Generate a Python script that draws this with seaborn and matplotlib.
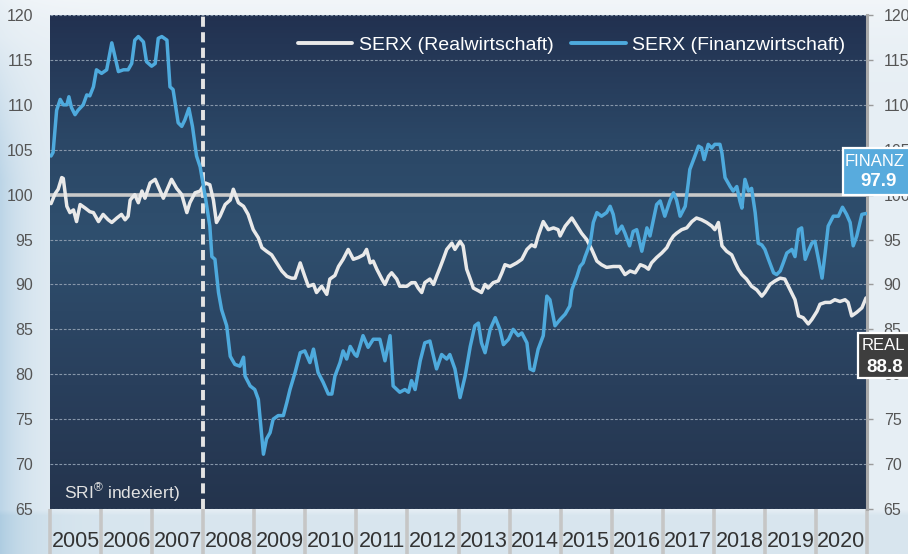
import numpy as np
import pandas as pd
import matplotlib
matplotlib.use("Agg")
import matplotlib.pyplot as plt
import seaborn as sns
from matplotlib.colors import LinearSegmentedColormap, to_rgb
from matplotlib.patches import Rectangle
from matplotlib.lines import Line2D

# ---------------- data ----------------
fin_t = [2005.02, 2005.06, 2005.13, 2005.20, 2005.26, 2005.33, 2005.37, 2005.42, 2005.49, 2005.55,
         2005.65, 2005.72, 2005.78, 2005.85, 2005.91, 2006.01, 2006.11, 2006.21, 2006.27, 2006.34,
         2006.44, 2006.53, 2006.60, 2006.66, 2006.73, 2006.83, 2006.89, 2006.99, 2007.06, 2007.12,
         2007.19, 2007.29, 2007.35, 2007.41, 2007.51, 2007.58, 2007.64, 2007.72, 2007.79, 2007.87,
         2007.94, 2008.04, 2008.13, 2008.17, 2008.23, 2008.30, 2008.36, 2008.46, 2008.53, 2008.62,
         2008.72, 2008.79, 2008.82, 2008.92, 2009.01, 2009.08, 2009.18, 2009.24, 2009.31, 2009.37,
         2009.47, 2009.57, 2009.64, 2009.70, 2009.80, 2009.90, 2009.99, 2010.09, 2010.16, 2010.25,
         2010.35, 2010.45, 2010.52, 2010.58, 2010.68, 2010.74, 2010.81, 2010.88, 2010.97, 2011.01,
         2011.13, 2011.23, 2011.33, 2011.46, 2011.56, 2011.66, 2011.72, 2011.85, 2011.95, 2012.02,
         2012.08, 2012.15, 2012.25, 2012.34, 2012.44, 2012.51, 2012.57, 2012.67, 2012.77, 2012.83,
         2012.93, 2013.03, 2013.13, 2013.23, 2013.32, 2013.39, 2013.45, 2013.52, 2013.62, 2013.72,
         2013.81, 2013.88, 2013.98, 2014.07, 2014.17, 2014.24, 2014.34, 2014.40, 2014.47, 2014.56,
         2014.66, 2014.73, 2014.79, 2014.89, 2014.99, 2015.09, 2015.18, 2015.22, 2015.32, 2015.38,
         2015.44, 2015.48, 2015.58, 2015.64, 2015.71, 2015.80, 2015.90, 2015.97, 2016.03, 2016.10,
         2016.20, 2016.26, 2016.35, 2016.42, 2016.49, 2016.59, 2016.69, 2016.75, 2016.88, 2016.95,
         2017.04, 2017.14, 2017.21, 2017.27, 2017.34, 2017.44, 2017.50, 2017.53, 2017.63, 2017.70,
         2017.76, 2017.81, 2017.89, 2017.96, 2018.02, 2018.12, 2018.16, 2018.22, 2018.32, 2018.38,
         2018.45, 2018.51, 2018.55, 2018.61, 2018.68, 2018.74, 2018.81, 2018.87, 2018.94, 2019.00,
         2019.07, 2019.17, 2019.23, 2019.30, 2019.36, 2019.43, 2019.53, 2019.59, 2019.66, 2019.72,
         2019.79, 2019.85, 2019.92, 2019.98, 2020.05, 2020.12, 2020.18, 2020.24, 2020.34, 2020.44,
         2020.52, 2020.60, 2020.67, 2020.73, 2020.80, 2020.90, 2020.98]
fin_v = [104.3, 104.7, 109.4, 110.6, 110.0, 110.0, 110.9, 109.7, 108.9, 109.4,
         110.0, 111.1, 111.0, 112.0, 113.9, 113.5, 113.9, 116.9, 115.4, 113.7,
         113.9, 113.9, 114.6, 117.2, 117.6, 117.0, 114.8, 114.3, 114.6, 117.4,
         117.6, 117.2, 112.0, 111.7, 108.0, 107.6, 108.3, 109.6, 107.6, 104.3,
         103.1, 99.8, 96.5, 93.1, 92.8, 89.1, 87.2, 85.4, 82.0, 81.1,
         80.9, 81.9, 79.8, 78.7, 78.3, 77.2, 71.1, 72.8, 73.5, 75.0,
         75.4, 75.4, 76.9, 78.3, 80.2, 82.4, 82.6, 81.3, 82.8, 80.2,
         79.1, 77.8, 77.8, 79.8, 81.3, 82.6, 81.7, 83.1, 82.2, 82.0,
         84.3, 83.0, 83.9, 83.9, 81.5, 84.3, 78.7, 78.0, 78.3, 78.0,
         79.3, 78.3, 81.5, 83.5, 83.7, 82.0, 80.6, 82.2, 81.7, 82.2,
         80.6, 77.4, 79.8, 83.1, 85.4, 85.7, 83.5, 82.4, 85.0, 86.3,
         85.0, 83.3, 83.9, 85.0, 84.3, 84.6, 83.5, 80.6, 80.4, 82.8,
         84.3, 88.7, 88.3, 85.4, 86.1, 86.7, 87.6, 89.4, 90.9, 92.0,
         92.4, 93.1, 94.6, 96.9, 98.0, 97.6, 98.0, 98.7, 97.8, 95.7,
         96.5, 95.7, 94.3, 95.9, 96.1, 93.7, 96.3, 95.4, 98.9, 99.3,
         97.6, 99.3, 100.2, 99.4, 97.6, 98.7, 101.3, 102.8, 104.3, 105.4,
         105.2, 103.9, 105.6, 105.2, 105.6, 105.6, 104.6, 101.9, 100.9, 100.4,
         100.9, 99.3, 98.5, 101.7, 100.4, 100.7, 98.0, 94.6, 94.4, 93.9,
         92.8, 91.3, 91.1, 91.5, 92.4, 93.5, 93.9, 93.1, 96.1, 96.3,
         92.8, 93.7, 94.6, 94.8, 92.8, 90.7, 93.5, 96.5, 97.6, 97.6,
         98.6, 97.8, 96.9, 94.3, 95.4, 97.8, 97.9]

real_t = [2005.02, 2005.10, 2005.16, 2005.23, 2005.26, 2005.33, 2005.39, 2005.46, 2005.52, 2005.59,
          2005.69, 2005.78, 2005.85, 2005.95, 2006.04, 2006.14, 2006.21, 2006.31, 2006.40, 2006.47,
          2006.53, 2006.57, 2006.66, 2006.73, 2006.80, 2006.86, 2006.96, 2007.06, 2007.12, 2007.22,
          2007.32, 2007.38, 2007.48, 2007.58, 2007.68, 2007.74, 2007.84, 2007.94, 2008.04, 2008.13,
          2008.20, 2008.26, 2008.33, 2008.43, 2008.53, 2008.59, 2008.69, 2008.79, 2008.88, 2008.98,
          2009.08, 2009.15, 2009.24, 2009.34, 2009.44, 2009.54, 2009.64, 2009.73, 2009.80, 2009.90,
          2009.99, 2010.06, 2010.16, 2010.22, 2010.32, 2010.42, 2010.48, 2010.58, 2010.65, 2010.74,
          2010.84, 2010.94, 2011.04, 2011.14, 2011.20, 2011.27, 2011.33, 2011.40, 2011.50, 2011.56,
          2011.63, 2011.69, 2011.79, 2011.85, 2011.99, 2012.08, 2012.15, 2012.21, 2012.28, 2012.34,
          2012.44, 2012.51, 2012.57, 2012.64, 2012.70, 2012.77, 2012.87, 2012.93, 2013.03, 2013.09,
          2013.16, 2013.23, 2013.29, 2013.39, 2013.45, 2013.52, 2013.58, 2013.68, 2013.78, 2013.85,
          2013.91, 2014.01, 2014.14, 2014.24, 2014.34, 2014.43, 2014.50, 2014.56, 2014.66, 2014.76,
          2014.86, 2014.95, 2014.99, 2015.09, 2015.22, 2015.32, 2015.41, 2015.51, 2015.61, 2015.71,
          2015.80, 2015.90, 2016.03, 2016.16, 2016.26, 2016.36, 2016.46, 2016.56, 2016.65, 2016.72,
          2016.78, 2016.88, 2016.98, 2017.08, 2017.14, 2017.21, 2017.27, 2017.37, 2017.47, 2017.57,
          2017.66, 2017.76, 2017.86, 2017.96, 2018.02, 2018.09, 2018.16, 2018.25, 2018.35, 2018.42,
          2018.48, 2018.55, 2018.64, 2018.74, 2018.84, 2018.94, 2019.00, 2019.10, 2019.20, 2019.30,
          2019.39, 2019.46, 2019.52, 2019.59, 2019.66, 2019.75, 2019.85, 2019.92, 2020.02, 2020.08,
          2020.18, 2020.28, 2020.37, 2020.47, 2020.57, 2020.63, 2020.70, 2020.80, 2020.90, 2020.98]
real_v = [99.0, 100.1, 100.6, 101.9, 101.8, 98.7, 98.0, 98.3, 97.0, 98.9,
          98.5, 98.1, 98.0, 97.0, 97.8, 97.2, 96.9, 97.4, 97.8, 97.2,
          97.6, 99.4, 100.0, 99.1, 100.4, 99.6, 101.3, 101.7, 100.9, 99.6,
          100.9, 101.7, 100.7, 100.0, 98.0, 99.1, 100.2, 100.4, 101.3, 101.1,
          99.4, 96.9, 97.6, 98.9, 99.4, 100.6, 99.1, 98.7, 97.8, 96.1,
          95.2, 94.1, 93.7, 93.3, 92.4, 91.5, 90.9, 90.7, 90.7, 92.4,
          90.9, 89.8, 90.0, 89.1, 89.8, 88.9, 90.6, 91.0, 92.0, 92.8,
          93.9, 92.8, 93.0, 93.3, 93.9, 92.4, 92.6, 91.7, 90.6, 90.0,
          90.9, 91.3, 90.6, 89.8, 89.8, 90.2, 90.2, 89.6, 89.1, 90.2,
          90.6, 90.0, 90.9, 91.9, 92.8, 93.9, 94.6, 93.9, 94.8, 94.3,
          91.7, 90.6, 89.6, 89.3, 89.1, 90.0, 89.6, 90.2, 90.4, 91.3,
          92.2, 92.0, 92.4, 92.8, 93.9, 94.4, 94.2, 95.4, 97.0, 96.1,
          96.3, 96.1, 95.4, 96.5, 97.4, 96.5, 95.7, 95.0, 93.9, 92.6,
          92.2, 91.9, 92.0, 92.0, 91.1, 91.5, 91.3, 92.2, 92.0, 91.7,
          92.4, 93.0, 93.5, 94.1, 94.8, 95.4, 95.7, 96.1, 96.3, 97.0,
          97.4, 97.2, 96.9, 96.5, 96.1, 96.9, 94.3, 93.7, 93.3, 92.4,
          91.7, 91.1, 90.6, 89.8, 89.4, 88.7, 89.1, 90.0, 90.4, 90.7,
          90.6, 89.8, 89.1, 88.3, 86.5, 86.3, 85.6, 86.1, 87.0, 87.8,
          88.0, 88.0, 88.3, 88.1, 88.3, 88.0, 86.5, 86.9, 87.4, 88.5]

series_names = ["SERX (Realwirtschaft)", "SERX (Finanzwirtschaft)"]
box_labels = ["REAL", "FINANZ"]
box_values = [88.8, 97.9]
years = list(range(2005, 2021))
y_ticks = list(range(65, 121, 5))
reference_level = 100
crisis_marker = 2008.0
note_text = "SRI$^{\u00ae}$ indexiert)"

# ---------------- styling ----------------
WHITE_LINE = "#e9e9e9"
BLUE_LINE = "#4eaadd"

sns.set_theme(style="white")
plt.rcParams['font.family'] = ['Liberation Sans', 'DejaVu Sans']
plt.rcParams['mathtext.fontset'] = 'custom'
plt.rcParams['mathtext.rm'] = 'Liberation Sans'
plt.rcParams['mathtext.it'] = 'Liberation Sans'
plt.rcParams['mathtext.default'] = 'regular'

W, H = 908, 554
fig = plt.figure(figsize=(W / 100, H / 100), dpi=100)

# figure background (light, bluish towards the left edge and below the plot)
bg = fig.add_axes([0, 0, 1, 1], zorder=-10)
xs = np.arange(W)[None, :].astype(float)
ys = np.arange(H)[:, None].astype(float)
base = np.array(to_rgb("#e6eef4"))
leftc = np.array(to_rgb("#bcd5e7"))
botc = np.array(to_rgb("#cddfea"))
topc = np.array(to_rgb("#f7f9fb"))
wl = np.exp(-xs / 28.0) * np.clip(ys / 180.0, 0.2, 1.0)
wb = np.clip((ys - 509) / 6.0, 0, 1) * 0.55
wt = np.exp(-ys / 40.0) * 0.7
img = base[None, None, :] * np.ones((H, W, 1))
img = img + (leftc - base) * wl[..., None] + (botc - base) * wb[..., None] + (topc - base) * wt[..., None]
bg.imshow(np.clip(img, 0, 1), extent=[0, W, H, 0], aspect="auto")
bg.set_xlim(0, W)
bg.set_ylim(H, 0)
bg.axis("off")

ax = fig.add_axes([50 / W, 45 / H, 817 / W, 494 / H])

# gradient plot background
cmap = LinearSegmentedColormap.from_list(
    "bgplot",
    [(0.0, "#24344d"), (0.25, "#293f5c"), (0.55, "#2f4f6e"), (0.75, "#2b4766"), (1.0, "#223150")])
grad = np.linspace(0, 1, 256)[:, None]
ax.imshow(grad, extent=[2005, 2021, 65, 120], origin="lower", aspect="auto", cmap=cmap, zorder=0)

df = pd.concat([
    pd.DataFrame({"t": real_t, "v": real_v, "Serie": series_names[0]}),
    pd.DataFrame({"t": fin_t, "v": fin_v, "Serie": series_names[1]}),
])
sns.lineplot(data=df, x="t", y="v", hue="Serie", hue_order=series_names,
             palette=[WHITE_LINE, BLUE_LINE], estimator=None, linewidth=2.5,
             legend=False, ax=ax)
for ln, z in zip(ax.lines, [2.2, 3.0]):
    ln.set_zorder(z)
    ln.set_solid_joinstyle("round")

ax.axhline(reference_level, color="#c9c9c9", lw=2.6, zorder=1.5)
ax.axvline(crisis_marker, color="#e4e4e4", lw=2.8, linestyle=(0, (2.6, 1.4)), zorder=2.6)

ax.set_xlim(2005, 2021)
ax.set_ylim(65, 120)
ax.set_xlabel("")
ax.set_ylabel("")

ax.set_yticks(y_ticks)
ax.set_yticklabels([str(v) for v in y_ticks])
ax.yaxis.grid(True, color="#8797aa", lw=0.8, linestyle=(0, (2.5, 1.5)))
for gl in ax.get_ygridlines():
    gl.set_zorder(1)
ax.tick_params(axis="y", left=False, right=True, labelleft=True, labelright=True,
               length=4, width=1, color="#9a9a9a", labelsize=11.5, labelcolor="#555555", pad=8)

ax.set_xticks([y + 0.5 for y in years])
ax.set_xticklabels([str(y) for y in years])
ax.set_xticks(list(range(2005, 2022)), minor=True)
ax.tick_params(axis="x", which="major", bottom=True, length=0, pad=16, labelsize=15.5,
               labelcolor="#333333")
ax.tick_params(axis="x", which="minor", bottom=True, length=34, width=2.6, color="#c6c6c6",
               direction="out")

for s in ["top", "bottom", "left"]:
    ax.spines[s].set_visible(False)
ax.spines["right"].set_color("#a9a9a9")
ax.spines["right"].set_linewidth(2.2)

handles = [Line2D([], [], color=WHITE_LINE, lw=2.8), Line2D([], [], color=BLUE_LINE, lw=2.8)]
leg = ax.legend(handles, series_names, loc="upper right", bbox_to_anchor=(1.0, 1.0), ncol=2,
                frameon=False, fontsize=14, labelcolor="white", handlelength=2.8,
                handletextpad=0.35, columnspacing=0.9, borderaxespad=0.7)

ax.text(0.017, 0.034, note_text, transform=ax.transAxes, color="#e2e2e2", fontsize=12.5,
        ha="left", va="center", zorder=5)

# value boxes at the right edge (pixel overlay)
ov = fig.add_axes([0, 0, 1, 1], zorder=20)
ov.set_xlim(0, W)
ov.set_ylim(H, 0)
ov.axis("off")
ov.patch.set_alpha(0)
box_specs = [((858, 333), 60, 45, "#3e3e3e"), ((843, 148), 70, 47, "#58abdd")]
for (xy, bw, bh, fc), lab, val in zip(box_specs, box_labels, box_values):
    ov.add_patch(Rectangle(xy, bw, bh, facecolor=fc, edgecolor="white", lw=1.6))
    cx = xy[0] + 4 if lab == "REAL" else xy[0] + 2
    ov.text(cx, xy[1] + 13, lab, color="white", fontsize=12, ha="left", va="center")
    ov.text(xy[0] + (27 if lab == "REAL" else 36), xy[1] + 34, f"{val:.1f}", color="white",
            fontsize=13.5, fontweight="bold", ha="center", va="center")

fig.savefig("out.png", dpi=100)
